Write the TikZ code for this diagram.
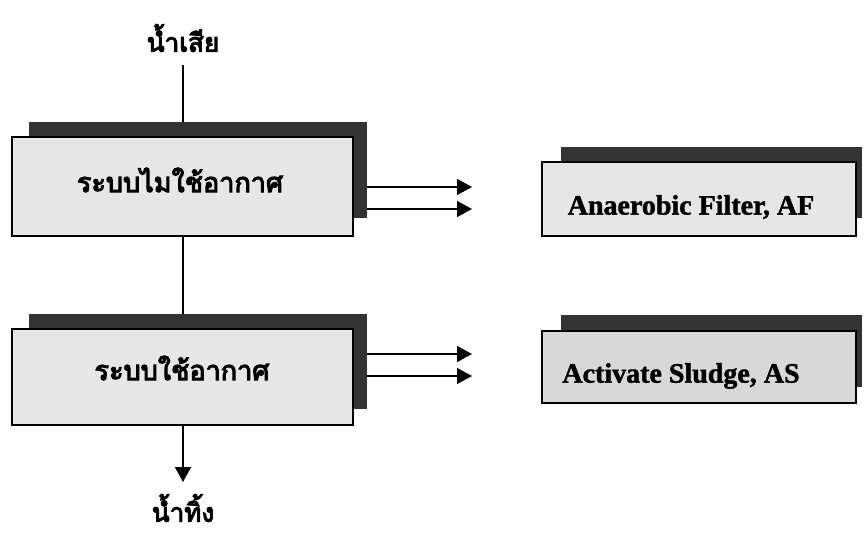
\documentclass[tikz,border=0pt]{standalone}
\usepackage{fontspec}
\setmainfont{Liberation Serif}[BoldFeatures={FakeBold=1.5}]
\newfontfamily\thaifont[Script=Thai,FakeBold=4]{Loma}
\usetikzlibrary{arrows.meta,calc}
\definecolor{panel}{HTML}{E6E6E6}
\definecolor{panelb}{HTML}{D8D8D8}
\definecolor{backing}{HTML}{333333}
\tikzset{
  backbox/.style={fill=backing, draw=none, inner sep=0pt, outer sep=0pt},
  frontbox/.style={fill=panel, draw=black, line width=2.4bp, inner sep=0pt, outer sep=0pt},
  thailabel/.style={font=\thaifont\fontsize{27bp}{30bp}\selectfont, inner sep=0pt},
  flowlabel/.style={font=\thaifont\fontsize{26bp}{28bp}\selectfont, inner sep=0pt},
  englabel/.style={font=\bfseries\fontsize{28bp}{30bp}\selectfont, inner sep=0pt},
  flow/.style={line width=1.5bp},
  flowarrow/.style={line width=1.5bp, -{Triangle[length=15bp,width=16bp]}},
}
\begin{document}
\begin{tikzpicture}[x=1bp,y=-1bp]
\useasboundingbox[fill=white] (0,0) rectangle (868,534);

% backing panels (offset up and to the right)
\node[backbox, minimum width=338bp, minimum height=96bp] (s1) at (198,170) {};
\node[backbox, minimum width=338bp, minimum height=95bp] (s2) at (198,361.5) {};
\node[backbox, minimum width=301bp, minimum height=71bp] (s3) at (711.5,182.5) {};
\node[backbox, minimum width=301bp, minimum height=72bp] (s4) at (711.5,351) {};

% front panels
\node[frontbox, minimum width=341bp, minimum height=99bp] (b1) at (182.5,186.5) {};
\node[frontbox, minimum width=341bp, minimum height=96bp] (b2) at (182.5,377) {};
\node[frontbox, minimum width=314bp, minimum height=74bp] (b3) at (699,199) {};
\node[frontbox, fill=panelb, minimum width=314bp, minimum height=72bp] (b4) at (699,367) {};

% panel texts
\node[thailabel] (t1) at (180,180) {ระบบไมใช้อากาศ};
\node[thailabel] (t2) at (182,368) {ระบบใช้อากาศ};
\node[englabel] (t3) at (691,207) {Anaerobic Filter, AF};
\node[englabel] (t4) at (681,376) {Activate Sludge, AS};

% inflow / outflow labels
\node[flowlabel] (win) at (183,38) {น้ำเสีย};
\node[flowlabel] (wout) at (183,508) {น้ำทิ้ง};

% arrow tips on the right
\coordinate (p1) at (472,187);
\coordinate (p2) at (472,209);
\coordinate (p3) at (472,354);
\coordinate (p4) at (472,376);
\coordinate (q) at (183,482);
\coordinate (r) at (183,65);

% connectors
\draw[flow] (r) -- (s1.north -| r);
\draw[flow] (b1.south -| r) -- (s2.north -| r);
\draw[flowarrow] (b2.south -| q) -- (q);
\draw[flowarrow] (s1.east |- p1) -- (p1);
\draw[flowarrow] (s1.east |- p2) -- (p2);
\draw[flowarrow] (s2.east |- p3) -- (p3);
\draw[flowarrow] (s2.east |- p4) -- (p4);
\end{tikzpicture}
\end{document}
